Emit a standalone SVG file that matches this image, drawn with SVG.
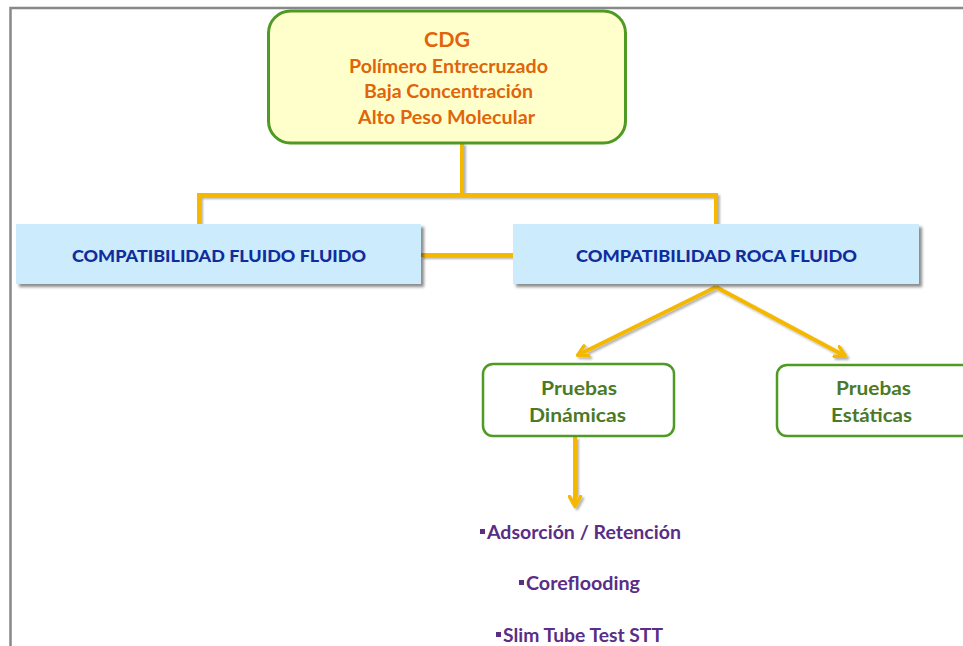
<svg xmlns="http://www.w3.org/2000/svg" width="963" height="646" viewBox="0 0 963 646">
<defs>
<filter id="sh" x="-10%" y="-20%" width="130%" height="150%">
<feDropShadow dx="3" dy="3" stdDeviation="1.5" flood-color="#000" flood-opacity="0.45"/>
</filter>
<filter id="lsh" x="-10%" y="-10%" width="120%" height="130%">
<feDropShadow dx="2" dy="2" stdDeviation="1.2" flood-color="#000" flood-opacity="0.3"/>
</filter>
<marker id="ah" viewBox="0 0 14 14" refX="11" refY="7" markerWidth="14" markerHeight="14" markerUnits="userSpaceOnUse" orient="auto">
<path d="M1.5,1.5 L11.5,7 L1.5,12.5" fill="none" stroke="#F5B800" stroke-width="3.5" stroke-linecap="round" stroke-linejoin="round"/>
</marker>
<style>
.frame{stroke:#888;stroke-width:2.5;fill:none}
.con{stroke:#F5B800;stroke-width:4;fill:none}
.top{fill:#FFFFCC;stroke:#4E9A25;stroke-width:3}
.blue{fill:#CCEBFC}
.green{fill:#fff;stroke:#4E9A25;stroke-width:2.5}
.t1{font-family:Lato,"Open Sans","Liberation Sans",sans-serif;font-weight:bold;fill:#E0650A;text-anchor:middle}
.t2{font-family:Lato,"Open Sans","Liberation Sans",sans-serif;font-weight:900;fill:#102D9C;font-size:17px;text-anchor:middle}
.t3{font-family:Lato,"Open Sans","Liberation Sans",sans-serif;font-weight:bold;fill:#4A7A26;font-size:19px;text-anchor:middle}
.t4{font-family:Lato,"Open Sans","Liberation Sans",sans-serif;font-weight:bold;fill:#5A2D86;font-size:18px}
</style>
</defs>
<rect width="963" height="646" fill="#fff"/>
<path class="frame" d="M10.5,646 V8 H963"/>

<g id="connectors" filter="url(#lsh)">
<path class="con" d="M462,143 V195"/>
<path class="con" d="M199,225 V195 H716 V225"/>
<path class="con" d="M421,255 H513"/>
<path class="con" d="M716,287 L578,355" marker-end="url(#ah)"/>
<path class="con" d="M716,287 L845,356" marker-end="url(#ah)"/>
<path class="con" d="M575,437 V506" marker-end="url(#ah)"/>
</g>

<g id="cdg">
<rect class="top" x="268.5" y="11" width="357" height="132" rx="22"/>
<text class="t1" x="447" y="47" font-size="20" textLength="46" lengthAdjust="spacingAndGlyphs">CDG</text>
<text class="t1" x="448.5" y="73" font-size="18" textLength="199" lengthAdjust="spacingAndGlyphs">Polímero Entrecruzado</text>
<text class="t1" x="448.5" y="98" font-size="18" textLength="169" lengthAdjust="spacingAndGlyphs">Baja Concentración</text>
<text class="t1" x="446.5" y="124" font-size="18" textLength="177" lengthAdjust="spacingAndGlyphs">Alto Peso Molecular</text>
</g>

<g id="fluido-fluido">
<rect class="blue" x="16" y="224" width="405" height="60" filter="url(#sh)"/>
<text class="t2" x="219" y="262" textLength="294" lengthAdjust="spacingAndGlyphs">COMPATIBILIDAD FLUIDO FLUIDO</text>
</g>

<g id="roca-fluido">
<rect class="blue" x="513" y="224" width="406" height="60" filter="url(#sh)"/>
<text class="t2" x="716.5" y="262" textLength="281" lengthAdjust="spacingAndGlyphs">COMPATIBILIDAD ROCA FLUIDO</text>
</g>

<g id="dinamicas">
<rect class="green" x="483" y="364" width="191" height="72" rx="10"/>
<text class="t3" x="579" y="395" textLength="76" lengthAdjust="spacingAndGlyphs">Pruebas</text>
<text class="t3" x="577.5" y="422" textLength="97" lengthAdjust="spacingAndGlyphs">Dinámicas</text>
</g>

<g id="estaticas">
<rect class="green" x="777" y="365" width="196" height="71" rx="10"/>
<text class="t3" x="873.5" y="395" textLength="75" lengthAdjust="spacingAndGlyphs">Pruebas</text>
<text class="t3" x="871.5" y="422" textLength="81" lengthAdjust="spacingAndGlyphs">Estáticas</text>
</g>

<g id="lista">
<rect x="480" y="529" width="5" height="5" fill="#5A2D86"/>
<text class="t4" x="487" y="539" textLength="194" lengthAdjust="spacingAndGlyphs">Adsorción / Retención</text>
<rect x="519" y="580" width="5" height="5" fill="#5A2D86"/>
<text class="t4" x="526" y="590" textLength="114" lengthAdjust="spacingAndGlyphs">Coreflooding</text>
<rect x="496" y="632" width="5" height="5" fill="#5A2D86"/>
<text class="t4" x="503" y="642" textLength="160" lengthAdjust="spacingAndGlyphs">Slim Tube Test STT</text>
</g>
</svg>
